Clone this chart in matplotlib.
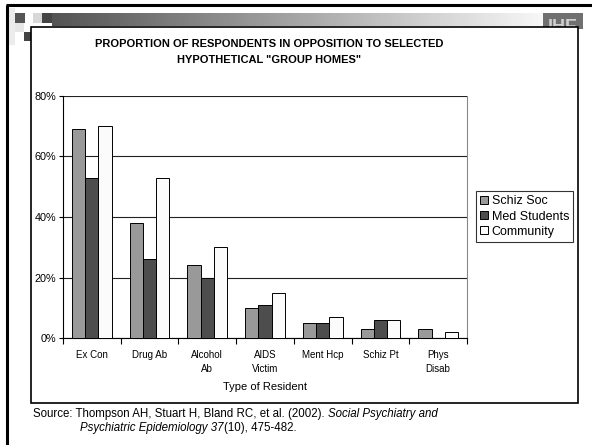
import numpy as np
import matplotlib.pyplot as plt
from matplotlib.patches import Rectangle

plt.rcParams['font.family'] = ['Liberation Sans', 'DejaVu Sans']

# proporciones de oposicion (%) por tipo de residente
categorias = ['Ex Con', 'Drug Ab', 'Alcohol\nAb', 'AIDS\nVictim', 'Ment Hcp', 'Schiz Pt', 'Phys\nDisab']
schiz_soc = [69, 38, 24, 10, 5, 3, 3]
med_students = [53, 26, 20, 11, 5, 6, 0]
community = [70, 53, 30, 15, 7, 6, 2]
series = ['Schiz Soc', 'Med Students', 'Community']
colores = ['#999999', '#4d4d4d', '#fbfbfb']
y_ticks = [0, 20, 40, 60, 80]

W, H = 592, 445
fig = plt.figure(figsize=(W / 100, H / 100), dpi=100)
renderer = fig.canvas.get_renderer()

# ---- fondo de la diapositiva (coordenadas en pixeles) ----
bg = fig.add_axes([0, 0, 1, 1], zorder=0)
bg.set_xlim(0, W)
bg.set_ylim(H, 0)
bg.axis('off')

# barra degradada superior
grad = np.linspace(0.33, 0.97, 256).reshape(1, -1)
bg.imshow(grad, cmap='gray', vmin=0, vmax=1, extent=[52, 545, 26, 13], aspect='auto', zorder=1)
# cuadritos decorativos
cuadros = [(9, 8, 6, 37, '#ececec'), (15, 13, 10, 10, '#555555'), (33, 13, 9, 10, '#d8d8d8'),
           (42, 13, 10, 10, '#454545'), (15, 23, 9, 9, '#e6e6e6'), (24, 32, 7, 9, '#444444')]
for x, y, w, h, c in cuadros:
    bg.add_patch(Rectangle((x, y), w, h, facecolor=c, edgecolor='none', zorder=2))
# logo
bg.add_patch(Rectangle((543, 13), 40, 16, facecolor='#707070', edgecolor='none', zorder=2))
bg.text(563, 36, 'IHE', color='#d0d0d0', fontsize=13, fontweight='bold', ha='center',
        va='bottom', zorder=3)
# marco de la diapositiva
bg.plot([7, 7], [H, 5], color='black', lw=2.2, zorder=5, solid_capstyle='butt')
bg.plot([6, W], [5, 5], color='black', lw=2.2, zorder=5, solid_capstyle='butt')
# recuadro de la grafica
bg.add_patch(Rectangle((30.5, 27), 547.5, 376, facecolor='white', edgecolor='black', lw=1.2,
                       zorder=4))

bg.text(269, 44, 'PROPORTION OF RESPONDENTS IN OPPOSITION TO SELECTED',
        fontsize=8, fontweight='bold', ha='center', va='center', zorder=6)
bg.text(269, 60, 'HYPOTHETICAL "GROUP HOMES"',
        fontsize=8, fontweight='bold', ha='center', va='center', zorder=6)


def texto_seguido(x0, y0, partes, size):
    # escribe trozos normales / italicos uno detras de otro
    x_act = x0
    for txt, estilo in partes:
        t = bg.text(x_act, y0, txt, fontsize=size, style=estilo, ha='left', va='center',
                    zorder=6)
        x_act += t.get_window_extent(renderer).width


texto_seguido(33, 414, [('Source: Thompson AH, Stuart H, Bland RC, et al. (2002). ', 'normal'),
                        ('Social Psychiatry and', 'italic')], 8.3)
texto_seguido(80, 428, [('Psychiatric Epidemiology 37', 'italic'),
                        ('(10), 475-482.', 'normal')], 8.3)

# ---- grafica de barras ----
ax = fig.add_axes([63 / W, 1 - 338 / H, (467 - 63) / W, (338 - 96) / H], zorder=2)
ax.set_facecolor('none')

x = np.arange(len(categorias))
ancho = 0.23
for i, (vals, nombre) in enumerate(zip([schiz_soc, med_students, community], series)):
    ax.bar(x + (i - 1) * ancho, vals, ancho, color=colores[i], edgecolor='black', lw=0.7,
           label=nombre, zorder=3)

ax.set_xlim(-0.5, len(categorias) - 0.5)
ax.set_ylim(0, 80)
ax.set_yticks(y_ticks)
ax.set_yticklabels([f'{v}%' for v in y_ticks], fontsize=7.8)
ax.yaxis.grid(True, color='#222222', lw=0.8, zorder=0)
ax.set_xticks(np.arange(len(categorias) + 1) - 0.5)
ax.set_xticklabels([])
ax.set_xticks(x, minor=True)
ax.set_xticklabels(categorias, minor=True, fontsize=7, linespacing=1.4)
ax.tick_params(axis='x', which='minor', length=0, pad=9)
ax.tick_params(axis='x', which='major', length=4, width=0.8, direction='out')
ax.tick_params(axis='y', length=3, width=0.8, pad=2)
ax.set_xlabel('Type of Resident', fontsize=8, labelpad=6)

ax.spines['top'].set_visible(False)
ax.spines['right'].set_color('#888888')
ax.spines['right'].set_linewidth(0.8)
ax.spines['left'].set_linewidth(0.8)
ax.spines['bottom'].set_linewidth(0.8)

leg = ax.legend(loc='center left', bbox_to_anchor=(1.022, 0.502), fontsize=9, frameon=True,
                fancybox=False, edgecolor='black', borderpad=0.35, handlelength=0.6,
                handleheight=0.6, handletextpad=0.3, labelspacing=0.25, borderaxespad=0)
leg.get_frame().set_linewidth(0.8)

fig.savefig('out.png', dpi=100)
